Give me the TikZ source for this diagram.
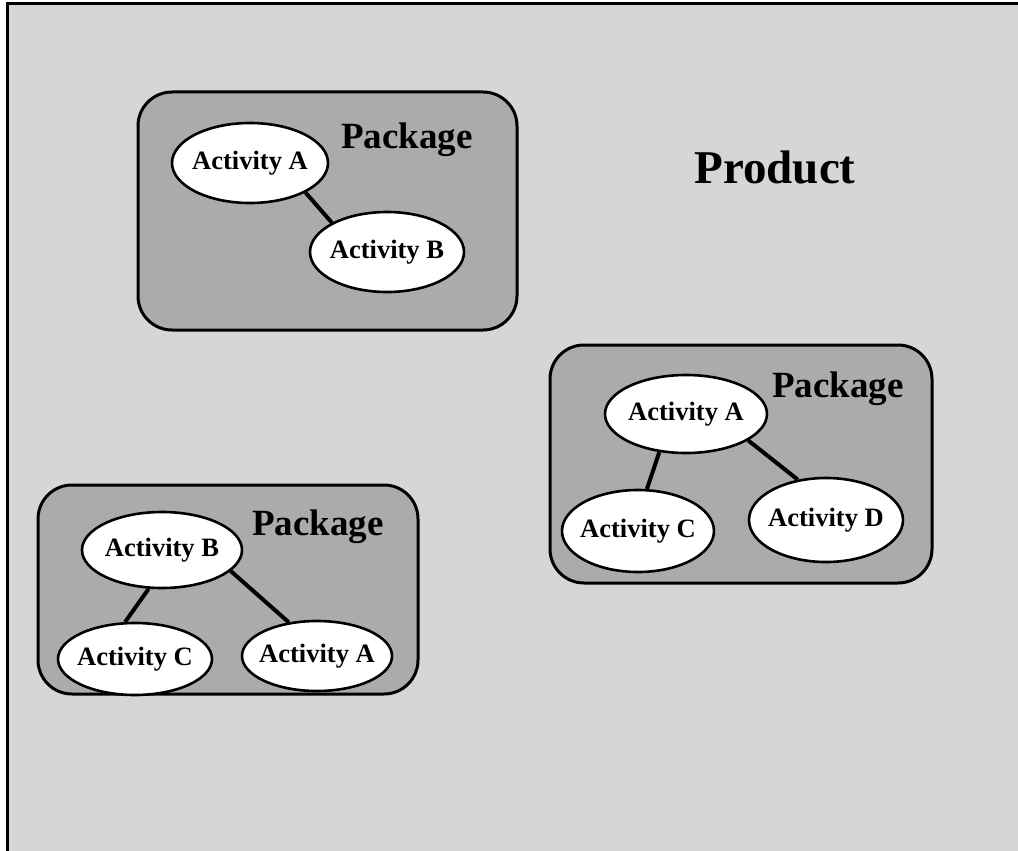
\documentclass[tikz,border=0pt]{standalone}
\usepackage{fontspec}
\setmainfont{Liberation Serif}
\usetikzlibrary{shapes.geometric}
\definecolor{bggray}{HTML}{D6D6D6}
\definecolor{pkggray}{HTML}{ABABAB}
\tikzset{
  pkgbox/.style={draw=black, line width=3pt, fill=pkggray, rounded corners=34pt},
  act/.style={ellipse, draw=black, line width=2.6pt, fill=white, inner xsep=-25pt, inner ysep=-5pt,
    font=\fontsize{26.5}{29}\selectfont\bfseries},
  link/.style={draw=black, line width=4pt},
  pkglabel/.style={anchor=base, inner sep=0pt, font=\fontsize{37}{41}\selectfont\bfseries},
}
\begin{document}
\begin{tikzpicture}[x=1pt,y=-1pt]
\useasboundingbox (0,0) rectangle (1018,851);
\fill[bggray] (7,4) rectangle (1018,851);
\draw[line width=3pt] (7,851) -- (7,4) -- (1018,4);

% Package 1
\draw[pkgbox] (138,92) rectangle (517,330);
\node[pkglabel] (p1) at (407,148) {Package};
\node[act, minimum width=156pt, minimum height=80pt] (a1) at (250,163) {Activity A};
\node[act, minimum width=154pt, minimum height=80pt] (b1) at (387,252) {Activity B};
\draw[link] (a1.332) -- (b1.152);

% Package 2
\draw[pkgbox] (550,345) rectangle (932,583);
\node[pkglabel] (p2) at (838,397) {Package};
\node[act, minimum width=162pt, minimum height=78pt] (a2) at (686,414) {Activity A};
\node[act, minimum width=152pt, minimum height=82pt] (c2) at (638,531) {Activity C};
\node[act, minimum width=154pt, minimum height=84pt] (d2) at (826,520) {Activity D};
\draw[link] (a2.235) -- (c2.78);
\draw[link] (a2.337) -- (d2.125);

% Package 3
\draw[pkgbox] (38,485) rectangle (418,694);
\node[pkglabel] (p3) at (318,535) {Package};
\node[act, minimum width=160pt, minimum height=76pt] (b3) at (162,550) {Activity B};
\node[act, minimum width=154pt, minimum height=72pt] (c3) at (135,659) {Activity C};
\node[act, minimum width=150pt, minimum height=70pt] (a3) at (317,656) {Activity A};
\draw[link] (b3.251) -- (c3.105);
\draw[link] (b3.343) -- (a3.130);

% Product
\node[anchor=base, inner sep=0pt, font=\fontsize{47}{52}\selectfont\bfseries] (prod) at (775,183) {Product};
\end{tikzpicture}
\end{document}
